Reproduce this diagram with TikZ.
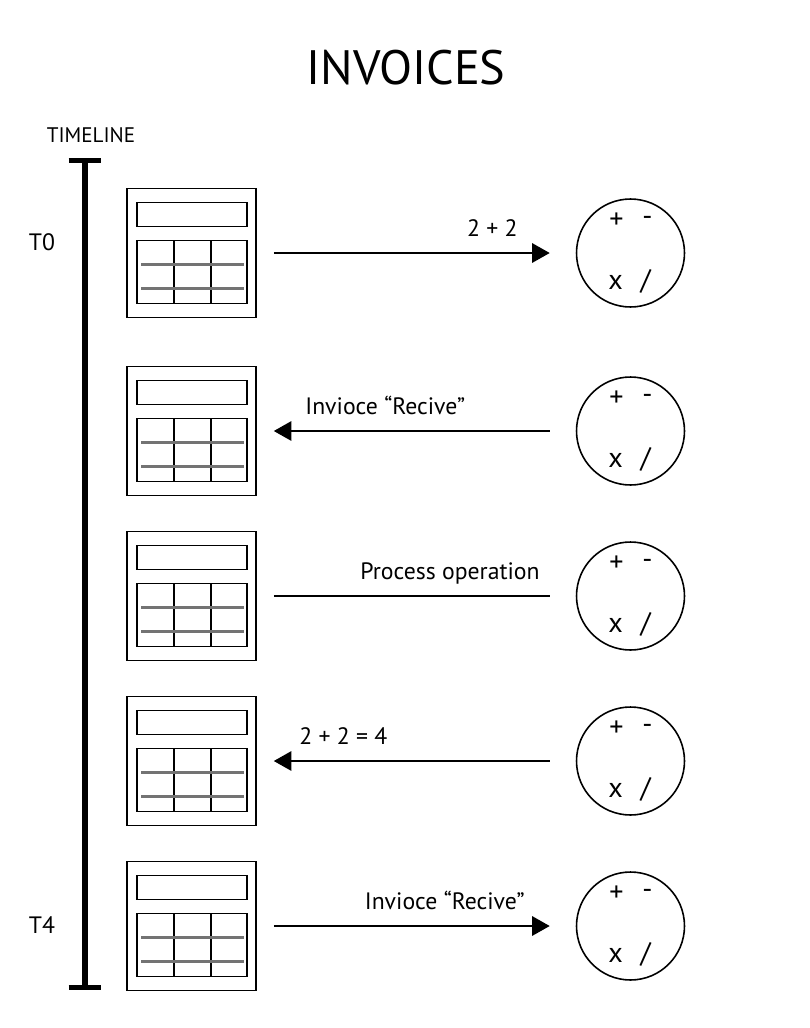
\documentclass[tikz,border=0pt]{standalone}
\usepackage{fontspec}
\setmainfont{PT Sans}
\usetikzlibrary{arrows.meta}
\tikzset{
  invbox/.style={draw, line width=0.9pt, minimum width=2.58cm, minimum height=2.58cm, inner sep=0pt},
  invpart/.style={draw, line width=0.8pt},
  invrule/.style={draw=black!55, line width=1.3pt},
  calcbox/.style={draw, circle, line width=0.9pt, minimum size=2.16cm, inner sep=0pt},
  sym/.style={font=\fontsize{16}{18}\selectfont, inner sep=0pt},
  lbl/.style={font=\fontsize{13.5}{16}\selectfont, inner sep=0pt},
  flow/.style={line width=1.1pt},
  flowtip/.style={-{Triangle[length=10pt,width=11pt]}},
}
\begin{document}
\begin{tikzpicture}[x=0.02cm, y=-0.02cm]
  \useasboundingbox (0,0) rectangle (810,1028);
  \node[font=\fontsize{27.5}{32}\selectfont, inner sep=0pt, anchor=base] (title) at (406,84) {INVOICES};
  % timeline
  \node[font=\fontsize{12}{14}\selectfont, inner sep=0pt, anchor=base] (tlabel) at (91,142) {TIMELINE};
  \coordinate (ttop) at (85,160.5);
  \coordinate (tbot) at (85,987.5);
  \draw[line width=3.4pt] (ttop) -- (tbot);
  \draw[line width=2.8pt] ([xshift=-0.33cm]ttop) -- ([xshift=0.33cm]ttop);
  \draw[line width=2.8pt] ([xshift=-0.33cm]tbot) -- ([xshift=0.33cm]tbot);
  \node[lbl, anchor=base] (t0) at (42,250) {T0};
  \node[lbl, anchor=base] (t4) at (42,933) {T4};
  % invoices and calculators
  \foreach \i/\y in {0/253,1/431,2/596,3/761,4/926} {
    \node[invbox] (inv\i) at (191.5,\y) {};
    \begin{scope}[shift={(127,\y-64.5)}]
      \draw[invpart] (10,14) rectangle (120,38);
      \draw[invpart] (10,52) rectangle (120,115) (47,52) -- (47,115) (84,52) -- (84,115);
      \draw[invrule] (14,76) -- (117,76) (14,100) -- (117,100);
    \end{scope}
    \node[calcbox] (calc\i) at (630.5,\y) {};
    \node[sym] (plus\i) at ([shift={(-14,-32)}]calc\i) {+};
    \node[sym] (minus\i) at ([shift={(17,-32)}]calc\i) {-};
    \node[sym] (times\i) at ([shift={(-15,29)}]calc\i) {x};
    \node[sym] (div\i) at ([shift={(15,28)}]calc\i) {/};
  }
  % messages
  \draw[flow, flowtip, shorten <=0.34cm, shorten >=0.52cm] (inv0.east) -- (calc0.west);
  \node[lbl, anchor=base east] (m0) at (518,236) {2 + 2};
  \draw[flow, flowtip, shorten <=0.52cm, shorten >=0.34cm] (calc1.west) -- (inv1.east);
  \node[lbl, anchor=base west] (m1) at (305,414) {Invioce “Recive”};
  \draw[flow, shorten <=0.34cm, shorten >=0.52cm] (inv2.east) -- (calc2.west);
  \node[lbl, anchor=base east] (m2) at (540,579) {Process operation};
  \draw[flow, flowtip, shorten <=0.52cm, shorten >=0.34cm] (calc3.west) -- (inv3.east);
  \node[lbl, anchor=base west] (m3) at (299,744) {2 + 2 = 4};
  \draw[flow, flowtip, shorten <=0.34cm, shorten >=0.52cm] (inv4.east) -- (calc4.west);
  \node[lbl, anchor=base east] (m4) at (525,909) {Invioce “Recive”};
\end{tikzpicture}
\end{document}
